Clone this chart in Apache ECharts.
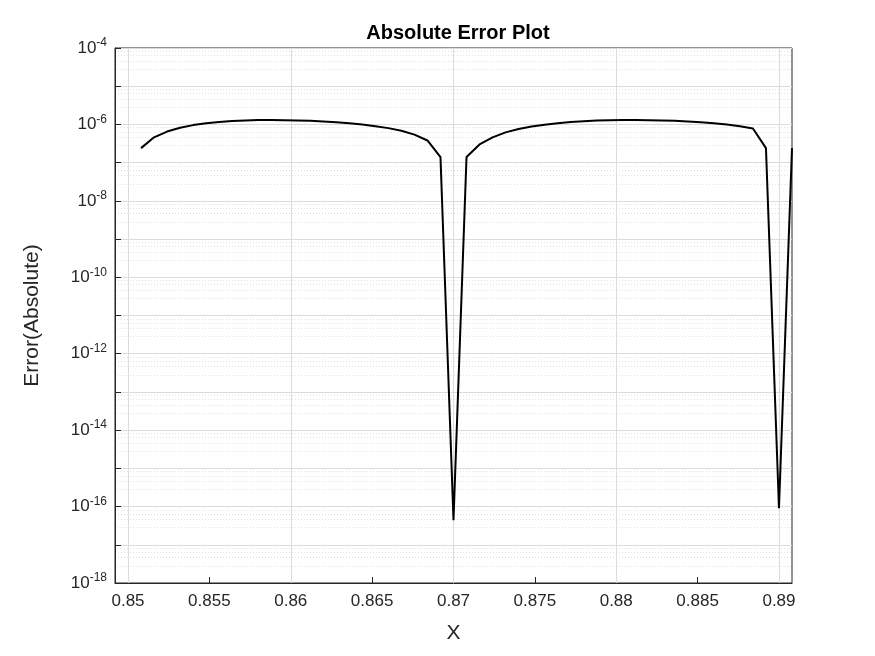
<!DOCTYPE html>
<html><head><meta charset="utf-8">
<script src="https://cdn.jsdelivr.net/npm/echarts@6/dist/echarts.min.js"></script>
<style>html,body{margin:0;background:#fff}#main{width:875px;height:656px}</style>
</head><body><div id="main"></div>
<script>
var xValues = [0.8508,0.8516,0.8524,0.8532,0.854,0.8548,0.8556,0.8564,0.8572,0.858,0.8588,0.8596,0.8604,0.8612,0.862,0.8628,0.8636,0.8644,0.8652,0.866,0.8668,0.8676,0.8684,0.8692,0.87,
  0.8708,0.8716,0.8724,0.8732,0.874,0.8748,0.8756,0.8764,0.8772,0.878,0.8788,0.8796,0.8804,0.8812,0.882,0.8828,0.8836,0.8844,0.8852,0.886,0.8868,0.8876,0.8884,0.8892,0.89,0.8908];
var errValues = [2.4e-7,4.6e-7,6.5e-7,8.2e-7,9.6e-7,1.07e-6,1.16e-6,1.23e-6,1.27e-6,1.3e-6,1.3e-6,1.29e-6,1.27e-6,1.24e-6,1.2e-6,1.14e-6,1.07e-6,9.9e-7,9.0e-7,8.0e-7,6.8e-7,5.4e-7,3.8e-7,1.4e-7,4.4e-17,
  1.4e-7,3.0e-7,4.6e-7,6.2e-7,7.6e-7,8.8e-7,9.8e-7,1.07e-6,1.15e-6,1.21e-6,1.26e-6,1.29e-6,1.3e-6,1.3e-6,1.29e-6,1.27e-6,1.24e-6,1.2e-6,1.14e-6,1.07e-6,9.9e-7,9.0e-7,7.8e-7,2.4e-7,9e-17,2.4e-7];
var xTicks = [0.85,0.855,0.86,0.865,0.87,0.875,0.88,0.885,0.89];

var data = [];
for (var i = 0; i < xValues.length; i++) data.push([xValues[i], errValues[i]]);

function pow10(v) {
    var e = Math.round(Math.log10(v));
    if (e % 2 !== 0) return '';
    return '{b|10}{s|' + e + '}';
}

var myChart = echarts.init(document.getElementById('main'));
var option = {
    animation: false,
    textStyle: {fontFamily: 'Liberation Sans'},
    title: {text: 'Absolute Error Plot', left: 453, top: 18, textAlign: 'center',
        textStyle: {fontSize: 20, fontWeight: 'bold', color: '#000', fontFamily: 'Liberation Sans'}},
    grid: {left: 115, right: 83, top: 48, bottom: 73, show: true, borderColor: '#262626', borderWidth: 1},
    xAxis: {
        type: 'value', min: 0.8492, max: 0.8908,
        name: 'X', nameLocation: 'middle', nameGap: 40,
        nameTextStyle: {fontSize: 21, color: '#262626'},
        axisLine: {lineStyle: {color: '#262626'}},
        axisTick: {inside: true, length: 6, customValues: xTicks, lineStyle: {color: '#262626'}},
        axisLabel: {customValues: xTicks, fontSize: 17, color: '#262626', margin: 10,
            formatter: function (v) { return String(+v.toFixed(3)); }},
        splitLine: {show: false}
    },
    yAxis: {
        type: 'log', logBase: 10, min: 1e-18, max: 1e-4, interval: 1,
        name: 'Error(Absolute)', nameLocation: 'middle', nameGap: 72,
        nameTextStyle: {fontSize: 21, color: '#262626'},
        axisLine: {lineStyle: {color: '#262626'}},
        axisTick: {inside: true, length: 6, lineStyle: {color: '#262626'}},
        axisLabel: {fontSize: 17, color: '#262626', formatter: pow10,
            rich: {b: {fontSize: 17, color: '#262626'}, s: {fontSize: 12, color: '#262626', verticalAlign: 'top', padding: [0,0,10,0]}}},
        splitLine: {show: true, lineStyle: {color: '#dcdcdc', width: 1}},
        minorTick: {show: false, splitNumber: 5},
        minorSplitLine: {show: true, lineStyle: {color: '#e2e2e2', type: [1, 2]}}
    },
    series: [{
        type: 'line', data: data, showSymbol: false, symbol: 'none',
        lineStyle: {color: '#000', width: 2}, z: 5,
        markLine: {
            silent: true, symbol: 'none', label: {show: false},
            lineStyle: {color: '#dcdcdc', width: 1, type: 'solid'},
            data: xTicks.map(function (t) { return {xAxis: t}; }), z: 1
        }
    }]
};
myChart.setOption(option);
</script></body></html>
